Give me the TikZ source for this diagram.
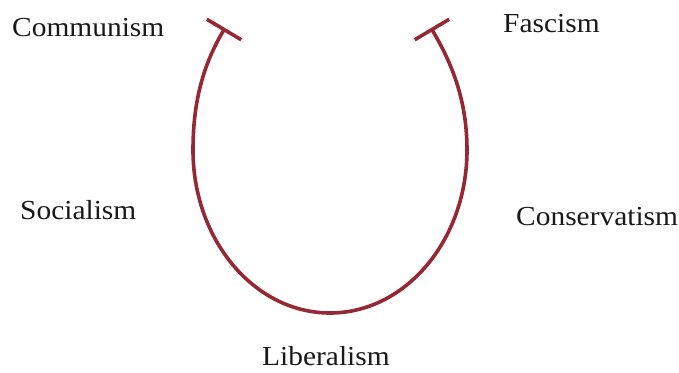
\documentclass[tikz,border=0pt]{standalone}
\usepackage{fontspec}
\setmainfont{Liberation Serif}[FakeStretch=1.07]
\usetikzlibrary{arrows.meta}
\definecolor{horse}{RGB}{150,40,52}
\begin{document}
\begin{tikzpicture}[x=1pt,y=1pt,
  lbl/.style={anchor=base west,inner sep=0pt,font=\fontsize{27.5}{30}\selectfont,text=black!90},
  shoe/.style={draw=horse,line width=3.6pt,{Bar[width=40pt,line width=3.6pt]}-{Bar[width=40pt,line width=3.6pt]}}]
\useasboundingbox (0,0) rectangle (679,372);
\node[lbl] (com) at (12,335) {Communism};
\node[lbl] (fas) at (503,339) {Fascism};
\node[lbl] (soc) at (20,152) {Socialism};
\node[lbl] (con) at (516,146) {Conservatism};
\node[lbl] (lib) at (262,7) {Liberalism};
\coordinate (A) at (225,344);
\coordinate (L) at (193,222);
\coordinate (B) at (330,59);
\coordinate (R) at (467,222);
\coordinate (C) at (431,344);
\path[shoe] (A) .. controls (203,307) and (193,270) .. (L)
  .. controls (193,132) and (254.4,59) .. (B)
  .. controls (405.6,59) and (467,132) .. (R)
  .. controls (467,270) and (453,307) .. (C);
\end{tikzpicture}
\end{document}
